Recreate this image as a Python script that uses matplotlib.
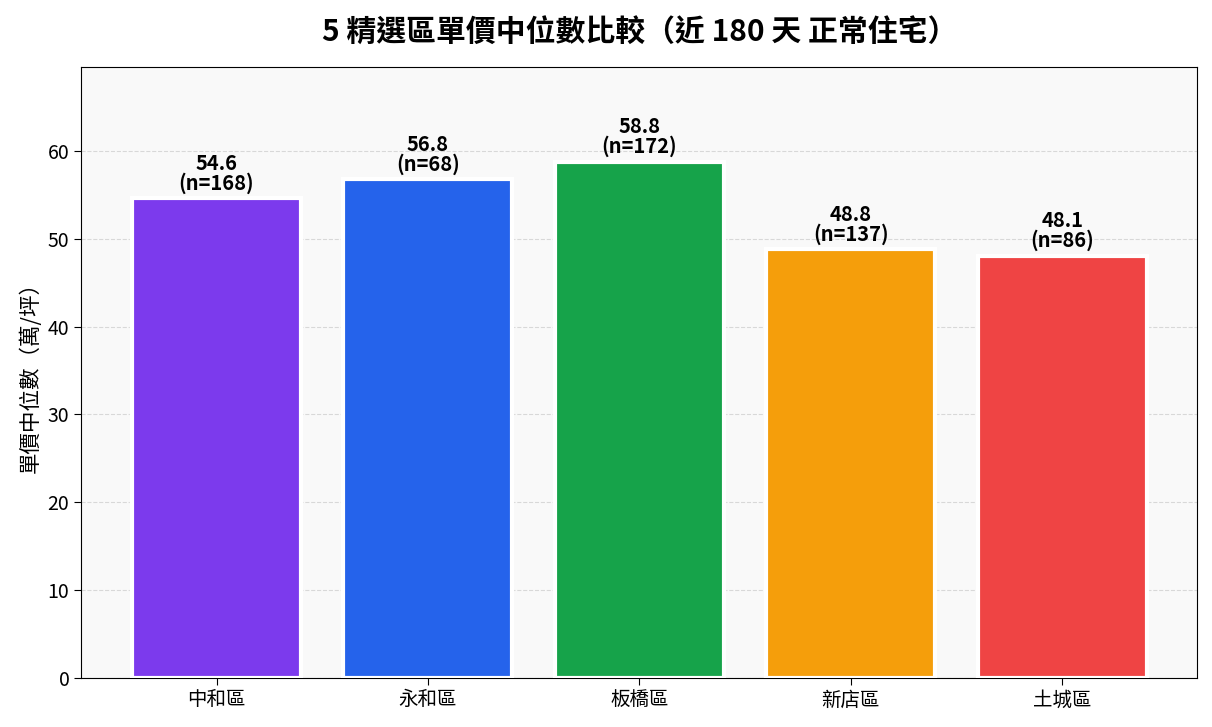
import matplotlib
matplotlib.use("Agg")
import matplotlib.pyplot as plt

plt.rcParams['font.family'] = ['Noto Sans CJK TC', 'DejaVu Sans']

districts = ['中和區', '永和區', '板橋區', '新店區', '土城區']
medians = [54.6, 56.8, 58.8, 48.8, 48.1]
counts = [168, 68, 172, 137, 86]
colors = ['#7c3aed', '#2563eb', '#16a34a', '#f59e0b', '#ef4444']

fig, ax = plt.subplots(figsize=(12.12, 7.27), dpi=100)
ax.set_facecolor('#f9f9f9')

bars = ax.bar(districts, medians, color=colors, width=0.8, edgecolor='white', linewidth=3, zorder=3)
for b, m, n in zip(bars, medians, counts):
    ax.text(b.get_x() + b.get_width() / 2, m + 0.5, f'{m:.1f}\n(n={n})',
            ha='center', va='bottom', fontsize=14.5, fontweight='bold', linespacing=0.9, zorder=4)

ax.set_ylim(0, 69.6)
ax.set_ylabel('單價中位數（萬/坪）', fontsize=15.5)
ax.set_title('5 精選區單價中位數比較（近 180 天 正常住宅）', fontsize=21.5, fontweight='bold', pad=18)
ax.grid(axis='y', linestyle='--', alpha=0.45, zorder=0)
ax.tick_params(labelsize=14, length=5)

plt.subplots_adjust(left=0.067, right=0.988, top=0.908, bottom=0.068)
plt.savefig('out.png')
